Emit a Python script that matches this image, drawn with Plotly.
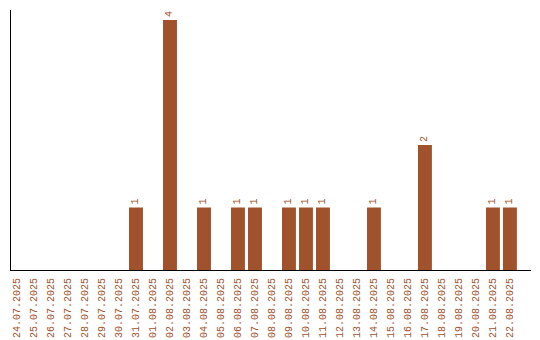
import plotly.graph_objects as go

dates = ["24.07.2025","25.07.2025","26.07.2025","27.07.2025","28.07.2025","29.07.2025",
         "30.07.2025","31.07.2025","01.08.2025","02.08.2025","03.08.2025","04.08.2025",
         "05.08.2025","06.08.2025","07.08.2025","08.08.2025","09.08.2025","10.08.2025",
         "11.08.2025","12.08.2025","13.08.2025","14.08.2025","15.08.2025","16.08.2025",
         "17.08.2025","18.08.2025","19.08.2025","20.08.2025","21.08.2025","22.08.2025"]
counts = [0,0,0,0,0,0,0,1,0,4,0,1,0,1,1,0,1,1,1,0,0,1,0,0,2,0,0,0,1,1]

color = "#A0522D"
font_family = "Liberation Mono"
labels = [str(c) if c > 0 else "" for c in counts]

fig = go.Figure(go.Bar(
    x=dates, y=counts, marker_color=color, marker_line_width=0,
    text=labels, textposition="outside", textangle=-90,
    textfont=dict(family=font_family, size=10, color=color),
    cliponaxis=False, width=0.82,
))
fig.update_layout(
    width=540, height=340, margin=dict(l=11, r=9, t=10, b=70),
    paper_bgcolor="white", plot_bgcolor="white", showlegend=False,
    font=dict(family=font_family, size=10, color=color),
)
fig.update_xaxes(type="category", range=[-0.353, 30.24], showline=True, linecolor="black",
                 linewidth=1, tickangle=-90, ticks="", showgrid=False, automargin=False,
                 ticklabelstandoff=3,
                 tickfont=dict(family=font_family, size=10, color=color))
fig.update_yaxes(range=[0, 4.16], showline=True, linecolor="black", linewidth=1,
                 showticklabels=False, ticks="", showgrid=False, zeroline=False,
                 automargin=False)
fig.write_html("out.html")
